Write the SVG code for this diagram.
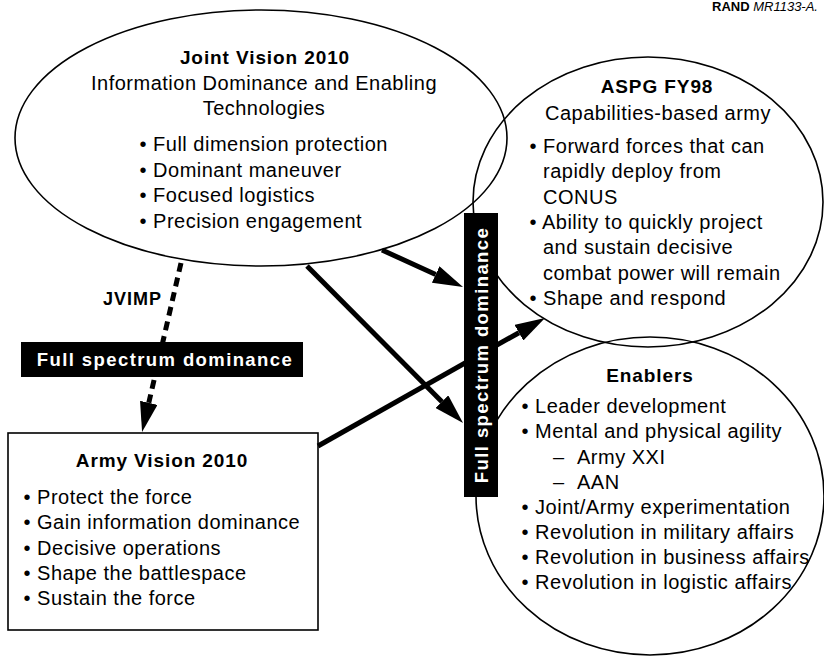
<svg xmlns="http://www.w3.org/2000/svg" width="824" height="656" viewBox="0 0 824 656">
<style>
  text { font-family: "Liberation Sans", Arial, sans-serif; fill: #000; }
  .t { font-size: 19px; font-weight: bold; letter-spacing: 0.9px; text-anchor: middle; }
  .b { font-size: 20px; letter-spacing: 0.5px; }
  .c { font-size: 20px; letter-spacing: 0.5px; text-anchor: middle; }
  .node { fill: none; stroke: #000; stroke-width: 1.6; }
  .lbl { font-size: 18.5px; font-weight: bold; letter-spacing: 1.4px; fill: #fff; text-anchor: middle; }
  .conn { fill: none; stroke: #000; stroke-width: 5; }
  .dash { stroke-dasharray: 9 6; }
</style>
<defs>
  <marker id="ah" viewBox="0 0 30 18" refX="0" refY="9" markerWidth="30" markerHeight="18" markerUnits="userSpaceOnUse" orient="auto">
    <path d="M0,0 L30,9 L0,18 z" fill="#000"/>
  </marker>
</defs>

<text x="712" y="11" style="font-size:13px"><tspan font-weight="bold">RAND</tspan> <tspan font-style="italic">MR1133-A.</tspan></text>

<g id="enablers">
  <ellipse class="node" cx="650" cy="496" rx="174" ry="159"/>
  <text class="t" x="650" y="382">Enablers</text>
  <text class="b" x="521.5" y="413">• Leader development</text>
  <text class="b" x="521.5" y="438">• Mental and physical agility</text>
  <text class="b" x="553" y="464">–</text><text class="b" x="577" y="464">Army XXI</text>
  <text class="b" x="553" y="489">–</text><text class="b" x="577" y="489">AAN</text>
  <text class="b" x="521.5" y="514">• Joint/Army experimentation</text>
  <text class="b" x="521.5" y="539">• Revolution in military affairs</text>
  <text class="b" x="521.5" y="564">• Revolution in business affairs</text>
  <text class="b" x="521.5" y="589">• Revolution in logistic affairs</text>
</g>

<g id="aspg">
  <ellipse class="node" cx="648" cy="202" rx="175" ry="145"/>
  <text class="t" x="657" y="93">ASPG FY98</text>
  <text class="c" x="658" y="120">Capabilities-based army</text>
  <text class="b" x="529.5" y="153">• Forward forces that can</text>
  <text class="b" x="543" y="178">rapidly deploy from</text>
  <text class="b" x="543" y="204">CONUS</text>
  <text class="b" x="529.5" y="229">• Ability to quickly project</text>
  <text class="b" x="543" y="254">and sustain decisive</text>
  <text class="b" x="543" y="280">combat power will remain</text>
  <text class="b" x="529.5" y="305">• Shape and respond</text>
</g>

<g id="jv2010">
  <ellipse class="node" cx="261" cy="138" rx="246" ry="128"/>
  <text class="t" x="265" y="64">Joint Vision 2010</text>
  <text class="c" x="264" y="90">Information Dominance and Enabling</text>
  <text class="c" x="264" y="115">Technologies</text>
  <text class="b" x="139.5" y="151">• Full dimension protection</text>
  <text class="b" x="139.5" y="177">• Dominant maneuver</text>
  <text class="b" x="139.5" y="202">• Focused logistics</text>
  <text class="b" x="139.5" y="228">• Precision engagement</text>
</g>

<g id="av2010">
  <rect class="node" x="8" y="433" width="310" height="197" fill="#fff"/>
  <text class="t" x="162" y="467">Army Vision 2010</text>
  <text class="b" x="23.5" y="504">• Protect the force</text>
  <text class="b" x="23.5" y="529">• Gain information dominance</text>
  <text class="b" x="23.5" y="555">• Decisive operations</text>
  <text class="b" x="23.5" y="580">• Shape the battlespace</text>
  <text class="b" x="23.5" y="605">• Sustain the force</text>
</g>

<g id="connectors">
  <path class="conn dash" d="M181,263 L148.8,402.8" marker-end="url(#ah)"/>
  <path class="conn" d="M307,266 L441.9,401.7" marker-end="url(#ah)"/>
  <path class="conn" d="M382,250 L435.7,274.5" marker-end="url(#ah)"/>
  <path class="conn" d="M318,446 L518.9,332.7" marker-end="url(#ah)"/>
  <text x="103" y="305" style="font-size:18px;font-weight:bold;letter-spacing:1px">JVIMP</text>
</g>

<g id="fsd-horizontal">
  <rect x="21" y="342" width="282" height="35" fill="#000"/>
  <text class="lbl" x="165" y="366">Full spectrum dominance</text>
</g>

<g id="fsd-vertical">
  <rect x="464" y="213" width="34" height="284" fill="#000"/>
  <text class="lbl" transform="translate(488,355) rotate(-90)">Full spectrum dominance</text>
</g>
</svg>
